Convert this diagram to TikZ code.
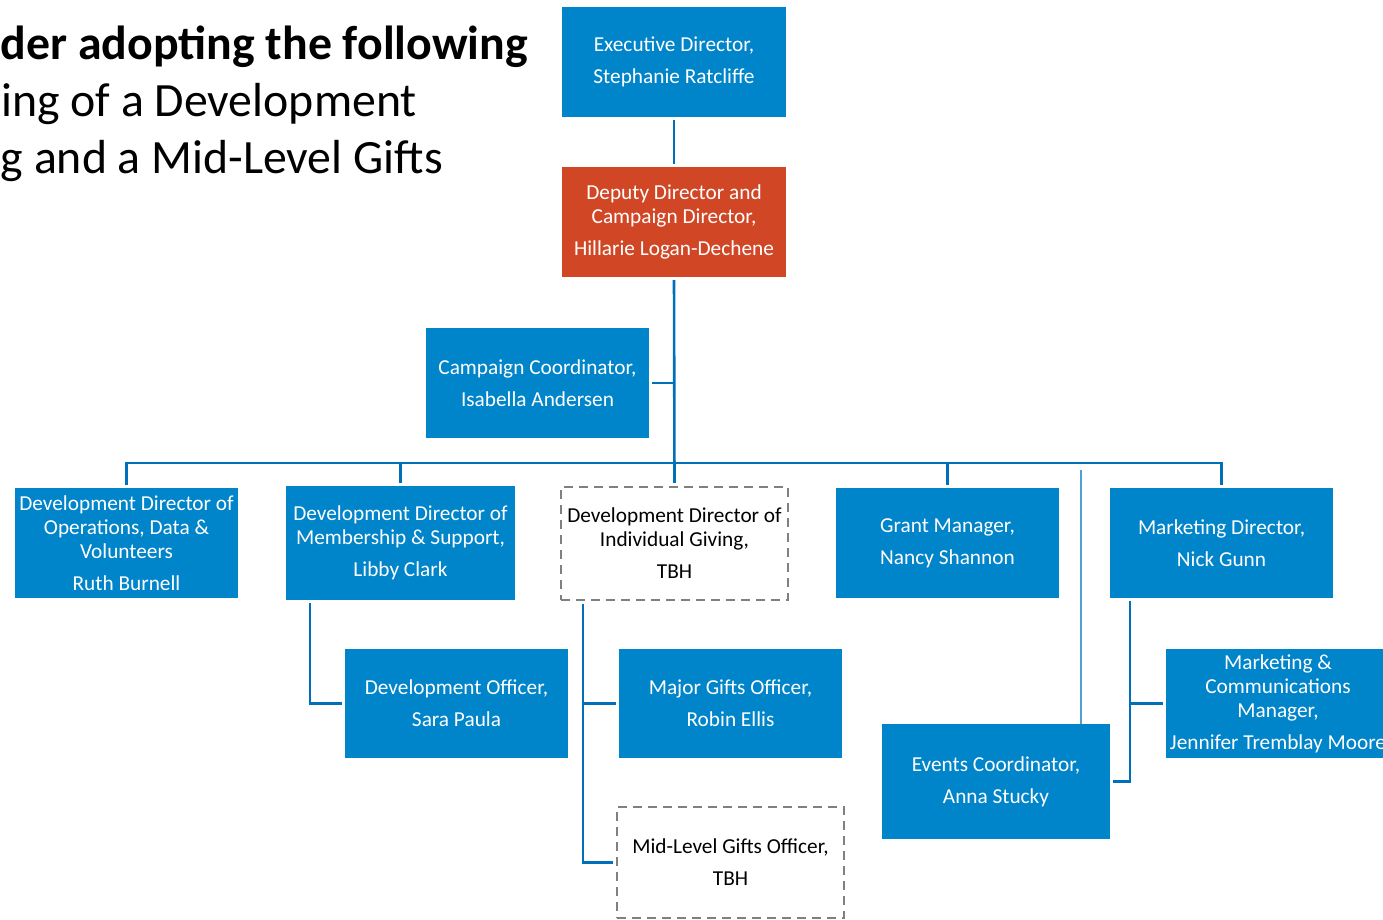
\documentclass[tikz,border=0pt]{standalone}
\usepackage{fontspec}
\setmainfont{Carlito}
\usetikzlibrary{calc}
\definecolor{boxblue}{RGB}{0,132,202}
\definecolor{boxred}{RGB}{209,71,38}
\definecolor{connblue}{RGB}{0,112,186}
\definecolor{lightblue}{RGB}{80,160,215}
\definecolor{dashgray}{RGB}{128,128,128}
\tikzset{
  bx/.style={minimum width=224pt, minimum height=110pt, inner sep=0pt, align=center,
    font=\fontsize{21.3}{24}\selectfont, text=white},
  bluebox/.style={bx, fill=boxblue},
  redbox/.style={bx, fill=boxred},
  tbhbox/.style={bx, draw=dashgray, dash pattern=on 9pt off 6pt, line width=2.2pt, text=black, fill=white},
  conn/.style={draw=connblue, line width=2.6pt, shorten >=3pt, shorten <=3pt},
  lightline/.style={draw=lightblue, line width=1.5pt},
  titletext/.style={anchor=base west, inner sep=0pt, font=\fontsize{47.8}{48}\selectfont},
}
\begin{document}
\begin{tikzpicture}[x=1pt,y=-1pt]
\clip (0,0) rectangle (1383,920);
\fill[white] (0,0) rectangle (1383,920);

% title
\node[titletext, font=\fontsize{47.8}{48}\selectfont\bfseries] (t1) at (0.5,60) {der adopting the following};
\node[titletext] (t2) at (1,117) {ing of a Development};
\node[titletext] (t3) at (0.5,174) {g and a Mid-Level Gifts};

% boxes
\node[bluebox] (exec) at (674,62) {Executive Director,\\[8pt]Stephanie Ratcliffe};
\node[redbox] (deputy) at (674,222) {Deputy Director and\\Campaign Director,\\[8pt]Hillarie Logan-Dechene};
\node[bluebox, minimum width=223pt] (camp) at (537.5,383) {Campaign Coordinator,\\[8pt]Isabella Andersen};

\node[bluebox, minimum width=223pt] (ops) at (126.5,543) {Development Director of\\Operations, Data \&\\Volunteers\\[8pt]Ruth Burnell};
\node[bluebox, minimum width=229pt, minimum height=114pt] (memb) at (400.5,543) {Development Director of\\Membership \& Support,\\[8pt]Libby Clark};
\node[tbhbox, minimum width=227pt, minimum height=113pt] (indiv) at (674.5,543.5) {Development Director of\\Individual Giving,\\[8pt]TBH};
\node[bluebox, minimum width=223pt] (grant) at (947.5,543) {Grant Manager,\\[8pt]Nancy Shannon};
\node[bluebox, minimum width=223pt] (mkt) at (1221.5,543) {Marketing Director,\\[8pt]Nick Gunn};

\node[bluebox, minimum width=223pt, minimum height=109pt] (devoff) at (456.5,703.5) {Development Officer,\\[8pt]Sara Paula};
\node[bluebox, minimum width=223pt, minimum height=109pt] (major) at (730.5,703.5) {Major Gifts Officer,\\[8pt]Robin Ellis};
\node[tbhbox, minimum width=227pt, minimum height=111pt] (mid) at (730.5,862.5) {Mid-Level Gifts Officer,\\[8pt]TBH};
\node[bluebox, minimum width=228pt, minimum height=115pt] (events) at (996,781.5) {Events Coordinator,\\[8pt]Anna Stucky};
\node[bluebox, minimum width=224pt, minimum height=109pt] (mcomm) at (1278,703.5) {Marketing \&\\Communications\\Manager,\\[8pt]Jennifer Tremblay Moore};

% connectors
\coordinate (bus) at (674,463);
\coordinate (thintop) at (1081,470);
\draw[conn] (exec) -- (deputy);
\draw[conn] (deputy.south) -- (indiv.north);
\draw[conn, shorten >=0pt] (camp.east) -- (camp.east -| deputy.south);
\draw[conn] (ops.north) |- (bus) -| (mkt.north);
\draw[conn, shorten <=0pt] (memb.north |- bus) -- (memb.north);
\draw[conn, shorten <=0pt] (grant.north |- bus) -- (grant.north);
\draw[lightline] (thintop) -- (thintop |- events.north);

\draw[conn] ($(memb.south west)+(24,0)$) |- (devoff.west);
\draw[conn] ($(indiv.south west)+(23,0)$) |- (major.west);
\draw[conn] ($(indiv.south west)+(23,0)$) |- (mid.west);
\draw[conn] ($(mkt.south west)+(20,0)$) |- (mcomm.west);
\draw[conn] ($(mkt.south west)+(20,0)$) |- (events.east);
\end{tikzpicture}
\end{document}
